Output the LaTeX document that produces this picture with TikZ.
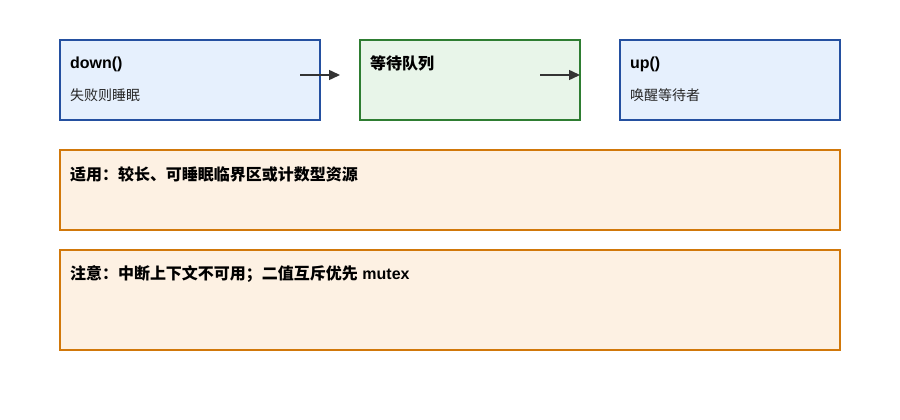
\documentclass[tikz,border=0pt]{standalone}
\usepackage{fontspec}
\setmainfont{Liberation Sans}
\newfontfamily\cjk{Noto Sans CJK SC}
\usetikzlibrary{arrows.meta}

\begin{document}
\begin{tikzpicture}[x=1pt, y=-1pt,
    every node/.style={inner sep=0pt, outer sep=0pt},
    semabox/.style={draw=#1line, fill=#1fill, line width=1.6pt, anchor=north west},
    boxtitle/.style={anchor=west, font=\fontsize{16}{19}\selectfont\bfseries, text=black},
    boxtext/.style={anchor=west, font=\fontsize{14}{17}\selectfont\cjk, text=black!85},
    flow/.style={draw=arrowgray, line width=1.5pt, -{Triangle[length=11pt,width=10pt]}}]
    \definecolor{blueline}{RGB}{36,80,160}
    \definecolor{bluefill}{RGB}{230,240,253}
    \definecolor{greenline}{RGB}{46,125,50}
    \definecolor{greenfill}{RGB}{232,245,233}
    \definecolor{orangeline}{RGB}{209,120,10}
    \definecolor{orangefill}{RGB}{253,241,227}
    \definecolor{arrowgray}{RGB}{51,51,51}

    \useasboundingbox[fill=white] (0,0) rectangle (900,420);

    % Les trois étapes du sémaphore.
    \node[semabox=blue, minimum width=260pt, minimum height=80pt] (down) at (60,40) {};
    \node[semabox=green, minimum width=220pt, minimum height=80pt] (queue) at (360,40) {};
    \node[semabox=blue, minimum width=220pt, minimum height=80pt] (up) at (620,40) {};
    \node[boxtitle] (downtitle) at (70,64) {down()};
    \node[boxtext] (downtext) at (70,95) {失败则睡眠};
    \node[boxtitle] (queuetitle) at (370,63) {\cjk\bfseries 等待队列};
    \node[boxtitle] (uptitle) at (630,64) {up()};
    \node[boxtext] (uptext) at (630,95) {唤醒等待者};

    \draw[flow] ([xshift=-20pt, yshift=5pt]down.east) -- ([xshift=20pt, yshift=5pt]down.east);
    \draw[flow] ([xshift=-40pt, yshift=5pt]queue.east) -- ([yshift=5pt]queue.east);

    % Remarques sur l'usage.
    \node[semabox=orange, minimum width=780pt, minimum height=80pt] (usage) at (60,150) {};
    \node[semabox=orange, minimum width=780pt, minimum height=100pt] (caveat) at (60,250) {};
    \node[boxtitle] (usagetext) at (70,174) {\cjk\bfseries 适用：较长、可睡眠临界区或计数型资源};
    \node[boxtitle] (caveattext) at (70,274) {{\cjk\bfseries 注意：中断上下文不可用；二值互斥优先} mutex};
\end{tikzpicture}
\end{document}
